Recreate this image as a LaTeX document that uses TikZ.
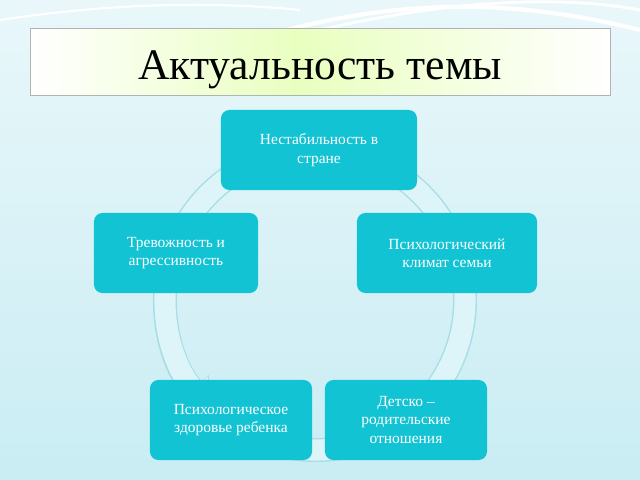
\documentclass[tikz,border=0pt]{standalone}
\usepackage{fontspec}
\setmainfont{Liberation Serif}
\usetikzlibrary{arrows.meta}
\definecolor{boxcyan}{HTML}{12C3D3}
\definecolor{ringfill}{HTML}{DDF4F8}
\definecolor{ringline}{HTML}{A6DDE6}
\definecolor{bgtop}{HTML}{E9F7FA}
\definecolor{bgbot}{HTML}{C9EDF4}
\tikzset{%
  stage/.style={rounded corners=6pt, fill=boxcyan, text=white, minimum width=4.9cm,
    minimum height=2cm, align=center, font=\fontsize{11}{13}\selectfont},
}
\begin{document}
\begin{tikzpicture}[x=0.025cm,y=-0.025cm]
% background
\shade[top color=bgtop, bottom color=bgbot] (0,0) rectangle (640,480);
\useasboundingbox (0,0) rectangle (640,480);
\draw[white, line width=3pt] (250,40) .. controls (400,-5) and (520,0) .. (640,30);
\draw[white, line width=2pt] (320,30) .. controls (450,0) and (560,-5) .. (640,10);
\draw[white, line width=1.5pt] (0,20) .. controls (100,5) and (200,0) .. (300,10);
% title
\shade[left color=white, right color=green!35!yellow!25] (30,28) rectangle (300,95);
\shade[left color=green!35!yellow!25, right color=white] (300,28) rectangle (610,95);
\draw[gray!60] (30,28) rectangle (610,95);
\node (title) at (320,70) {\fontsize{31}{36}\selectfont Актуальность темы};
% ring
\draw[ringline, line width=17pt, -{Triangle[width=30pt,length=14pt]}] (315,300) ++(460:150) arc[start angle=460, end angle=136, radius=150];
\draw[ringfill, line width=15pt, -{Triangle[width=27pt,length=12pt]}] (315,300) ++(458:150) arc[start angle=458, end angle=137, radius=150];
% stages
\node[stage, minimum width=4.9cm] (top) at (319,150) {Нестабильность в\\ стране};
\node[stage, minimum width=4.5cm] (right) at (447,253) {Психологический\\ климат семьи};
\node[stage, minimum width=4.05cm] (bright) at (406,420) {Детско –\\ родительские\\ отношения};
\node[stage, minimum width=4.05cm] (bleft) at (231,420) {Психологическое\\ здоровье ребенка};
\node[stage, minimum width=4.1cm] (left) at (176,253) {Тревожность и\\ агрессивность};
\end{tikzpicture}
\end{document}
